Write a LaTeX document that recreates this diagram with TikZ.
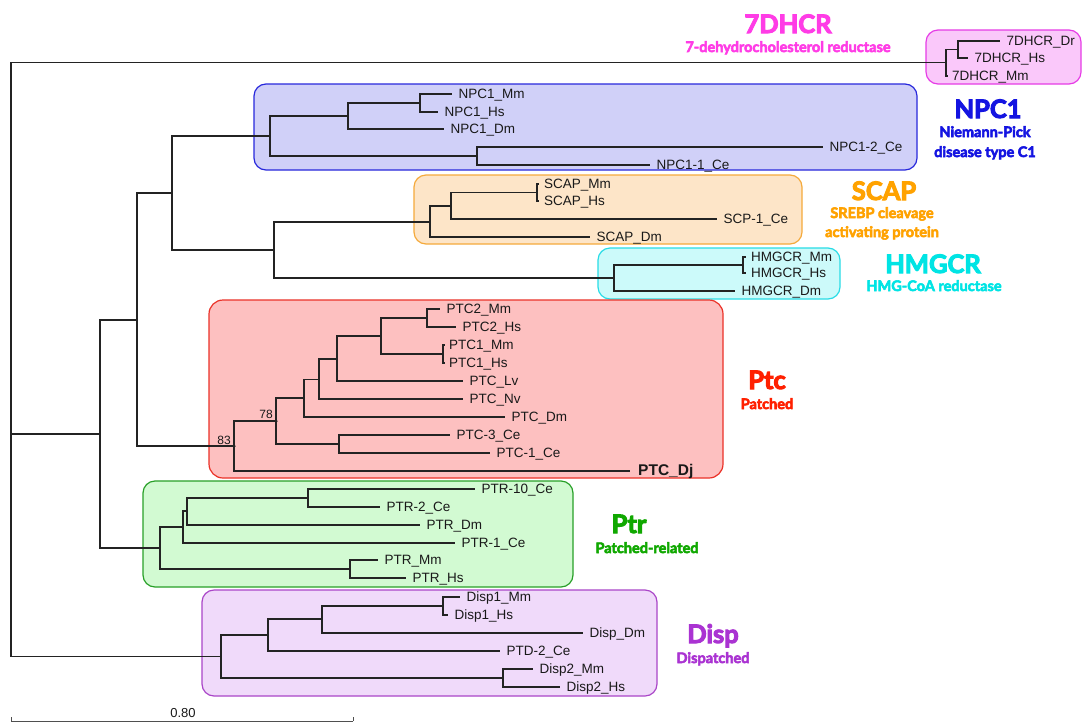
\documentclass[tikz,border=0pt]{standalone}
\usepackage{fontspec}
\setmainfont{Liberation Sans}
\newfontfamily\tfont{Lato}
\newcommand\heavytext[2][0.9]{\special{pdf:literal direct 2 Tr #1 w}#2\special{pdf:literal direct 0 Tr}}
\definecolor{lc}{RGB}{35,35,35}
\definecolor{tc}{RGB}{25,25,25}
\definecolor{cD}{RGB}{255,60,230}\definecolor{fD}{RGB}{250,200,250}\definecolor{bD}{RGB}{230,60,230}
\definecolor{cN}{RGB}{20,20,225}\definecolor{fN}{RGB}{208,208,248}\definecolor{bN}{RGB}{40,40,220}
\definecolor{cS}{RGB}{255,162,0}\definecolor{fS}{RGB}{253,229,200}\definecolor{bS}{RGB}{245,170,60}
\definecolor{cH}{RGB}{0,228,228}\definecolor{fH}{RGB}{204,250,250}\definecolor{bH}{RGB}{40,220,230}
\definecolor{cP}{RGB}{255,32,0}\definecolor{fP}{RGB}{253,192,192}\definecolor{bP}{RGB}{235,50,40}
\definecolor{cR}{RGB}{16,168,0}\definecolor{fR}{RGB}{210,250,210}\definecolor{bR}{RGB}{40,160,40}
\definecolor{cI}{RGB}{170,51,210}\definecolor{fI}{RGB}{240,218,250}\definecolor{bI}{RGB}{170,70,200}
\newcommand\ttltext[1]{\heavytext[1.0]{#1}}
\newcommand\subtext[1]{\heavytext[0.55]{#1}}
\begin{document}
\begin{tikzpicture}[x=1pt,y=-1pt,
  br/.style={draw=lc, line width=1.3pt},
  leaf/.style={anchor=west, inner xsep=6.5pt, inner ysep=0pt, text height=9.7pt, text depth=0pt, font=\fontsize{13.5}{14}\selectfont, text=tc},
  clade/.style={rounded corners=12pt, line width=1.2pt},
  ttl/.style={anchor=base, inner sep=0pt, font=\tfont\bfseries\fontsize{25.5}{27}\selectfont},
  sub/.style={anchor=base, inner sep=0pt, font=\tfont\bfseries\fontsize{14.5}{16}\selectfont},
  boot/.style={inner sep=0pt, font=\fontsize{12}{13}\selectfont, text=tc},
  dotn/.style={circle, fill=lc, inner sep=0pt, minimum size=3.5pt}]
\useasboundingbox[fill=white] (0,0) rectangle (1083,723);

% clade boxes
\draw[clade, draw=bD, fill=fD] (926,30) rectangle (1081,84);
\draw[clade, draw=bN, fill=fN] (254,84) rectangle (917,170);
\draw[clade, draw=bS, fill=fS] (414,175) rectangle (802,244);
\draw[clade, draw=bH, fill=fH] (598,248) rectangle (840,299);
\draw[clade, draw=bP, fill=fP, rounded corners=14pt] (209,300) rectangle (723,478);
\draw[clade, draw=bR, fill=fR] (143,481) rectangle (573,587);
\draw[clade, draw=bI, fill=fI] (202,590) rectangle (657,696);

% internal nodes
\coordinate (R) at (11,359);
\coordinate (D) at (946,62.5);
\coordinate (D2) at (958,49.5);
\coordinate (N0) at (100,434);
\coordinate (N1) at (137,320);
\coordinate (N2) at (172,193);
\coordinate (NPC0) at (270,136);
\coordinate (NPCa) at (348,116);
\coordinate (NPCc) at (420,103);
\coordinate (NPCb) at (477,156);
\coordinate (SH) at (274,250);
\coordinate (SC0) at (430,222);
\coordinate (SC1) at (451,206);
\coordinate (SC2) at (537,192.5);
\coordinate (HM0) at (614,278);
\coordinate (HM1) at (743,265);
\coordinate (PTC0) at (234,446);
\coordinate (P78) at (276,421);
\coordinate (P1) at (304,398);
\coordinate (P2) at (319,379.5);
\coordinate (P4) at (337,359);
\coordinate (P5) at (381,336);
\coordinate (P6) at (427,318);
\coordinate (P7) at (443,354);
\coordinate (P3) at (339,444);
\coordinate (PTR0) at (160,548);
\coordinate (T1) at (183,527);
\coordinate (T2) at (187,511);
\coordinate (T3) at (308,498);
\coordinate (T4) at (350,569);
\coordinate (DS0) at (221,656.5);
\coordinate (DS1) at (268,635);
\coordinate (DS2) at (322,619);
\coordinate (DS3) at (443,606);
\coordinate (DS4) at (503,678);

% leaves
\node[leaf] (dr) at (1000,41) {7DHCR\_Dr};
\node[leaf] (dhs) at (968,58) {7DHCR\_Hs};
\node[leaf, inner xsep=4pt] (dmm) at (948,76) {7DHCR\_Mm};
\node[leaf] (nmm) at (452,94) {NPC1\_Mm};
\node[leaf] (nhs) at (438,112) {NPC1\_Hs};
\node[leaf] (ndm) at (444,129) {NPC1\_Dm};
\node[leaf] (n2ce) at (823,147) {NPC1-2\_Ce};
\node[leaf] (n1ce) at (650,165) {NPC1-1\_Ce};
\node[leaf, inner xsep=5pt] (smm) at (539,184) {SCAP\_Mm};
\node[leaf, inner xsep=5pt] (shs) at (539,201) {SCAP\_Hs};
\node[leaf] (sce) at (717,219) {SCP-1\_Ce};
\node[leaf] (sdm) at (590,237) {SCAP\_Dm};
\node[leaf, inner xsep=5pt] (hmm) at (746,257) {HMGCR\_Mm};
\node[leaf, inner xsep=5pt] (hhs) at (746,273) {HMGCR\_Hs};
\node[leaf] (hdm) at (735,291) {HMGCR\_Dm};
\node[leaf] (p2mm) at (440,309) {PTC2\_Mm};
\node[leaf] (p2hs) at (456,327) {PTC2\_Hs};
\node[leaf, inner xsep=4pt] (p1mm) at (445,345) {PTC1\_Mm};
\node[leaf, inner xsep=4pt] (p1hs) at (445,363) {PTC1\_Hs};
\node[leaf] (plv) at (463,381) {PTC\_Lv};
\node[leaf] (pnv) at (463,399) {PTC\_Nv};
\node[leaf] (pdm) at (505,417) {PTC\_Dm};
\node[leaf] (p3ce) at (450,435) {PTC-3\_Ce};
\node[leaf] (p1ce) at (490,453) {PTC-1\_Ce};
\node[leaf, inner xsep=8pt, font=\bfseries\fontsize{15.5}{16}\selectfont] (pdj) at (630,471) {PTC\_Dj};
\node[leaf] (r10) at (475,489) {PTR-10\_Ce};
\node[leaf] (r2) at (380,507) {PTR-2\_Ce};
\node[leaf] (rdm) at (420,525) {PTR\_Dm};
\node[leaf] (r1) at (455,543) {PTR-1\_Ce};
\node[leaf] (rmm) at (378,560) {PTR\_Mm};
\node[leaf] (rhs) at (406,578) {PTR\_Hs};
\node[leaf] (d1mm) at (460,597) {Disp1\_Mm};
\node[leaf] (d1hs) at (448,615) {Disp1\_Hs};
\node[leaf] (ddm) at (583,633) {Disp\_Dm};
\node[leaf] (d2ce) at (500,651) {PTD-2\_Ce};
\node[leaf] (d2mm) at (533,669) {Disp2\_Mm};
\node[leaf] (d2hs) at (560,687) {Disp2\_Hs};

% branches
\draw[br] (R) |- (D); \draw[br] (R) |- (N0); \draw[br] (R) |- (DS0);
\draw[br] (D) |- (D2); \draw[br] (D) |- (dmm.west);
\draw[br] (D2) |- (dr.west); \draw[br] (D2) |- (dhs.west);
\draw[br] (N0) |- (N1); \draw[br] (N0) |- (PTR0);
\draw[br] (N1) |- (N2); \draw[br] (N1) |- (PTC0);
\draw[br] (N2) |- (NPC0); \draw[br] (N2) |- (SH);
\draw[br] (NPC0) |- (NPCa); \draw[br] (NPC0) |- (NPCb);
\draw[br] (NPCa) |- (NPCc); \draw[br] (NPCa) |- (ndm.west);
\draw[br] (NPCc) |- (nmm.west); \draw[br] (NPCc) |- (nhs.west);
\draw[br] (NPCb) |- (n2ce.west); \draw[br] (NPCb) |- (n1ce.west);
\draw[br] (SH) |- (SC0); \draw[br] (SH) |- (HM0);
\draw[br] (SC0) |- (SC1); \draw[br] (SC0) |- (sdm.west);
\draw[br] (SC1) |- (SC2); \draw[br] (SC1) |- (sce.west);
\draw[br] (SC2) |- (smm.west); \draw[br] (SC2) |- (shs.west);
\draw[br] (HM0) |- (HM1); \draw[br] (HM0) |- (hdm.west);
\draw[br] (HM1) |- (hmm.west); \draw[br] (HM1) |- (hhs.west);
\draw[br] (PTC0) |- (P78); \draw[br] (PTC0) |- (pdj.west);
\draw[br] (P78) |- (P1); \draw[br] (P78) |- (P3);
\draw[br] (P3) |- (p3ce.west); \draw[br] (P3) |- (p1ce.west);
\draw[br] (P1) |- (P2); \draw[br] (P1) |- (pdm.west);
\draw[br] (P2) |- (P4); \draw[br] (P2) |- (pnv.west);
\draw[br] (P4) |- (P5); \draw[br] (P4) |- (plv.west);
\draw[br] (P5) |- (P6); \draw[br] (P5) |- (P7);
\draw[br] (P6) |- (p2mm.west); \draw[br] (P6) |- (p2hs.west);
\draw[br] (P7) |- (p1mm.west); \draw[br] (P7) |- (p1hs.west);
\draw[br] (PTR0) |- (T1); \draw[br] (PTR0) |- (T4);
\draw[br] (T4) |- (rmm.west); \draw[br] (T4) |- (rhs.west);
\draw[br] (T1) |- (T2); \draw[br] (T1) |- (r1.west);
\draw[br] (T2) |- (T3); \draw[br] (T2) |- (rdm.west);
\draw[br] (T3) |- (r10.west); \draw[br] (T3) |- (r2.west);
\draw[br] (DS0) |- (DS1); \draw[br] (DS0) |- (DS4);
\draw[br] (DS4) |- (d2mm.west); \draw[br] (DS4) |- (d2hs.west);
\draw[br] (DS1) |- (DS2); \draw[br] (DS1) |- (d2ce.west);
\draw[br] (DS2) |- (DS3); \draw[br] (DS2) |- (ddm.west);
\draw[br] (DS3) |- (d1mm.west); \draw[br] (DS3) |- (d1hs.west);

% bootstrap values
\node[dotn] (dot83) at (PTC0) {};
\node[dotn] (dot78) at (P78) {};
\node[boot] (b83) at (224,440) {83};
\node[boot] (b78) at (266,414) {78};

% clade titles
\node[ttl, text=cD] (t7) at (788,33) {\ttltext{7DHCR}};
\node[sub, text=cD] (s7) at (788,52) {\subtext{7-dehydrocholesterol reductase}};
\node[ttl, text=cN] (tN) at (988,118) {\ttltext{NPC1}};
\node[sub, text=cN] (sN1) at (985,137) {\subtext{Niemann-Pick}};
\node[sub, text=cN] (sN2) at (985,157) {\subtext{disease type C1}};
\node[ttl, text=cS] (tS) at (884,200) {\ttltext{SCAP}};
\node[sub, text=cS] (sS1) at (882,218) {\subtext{SREBP cleavage}};
\node[sub, text=cS] (sS2) at (882,237) {\subtext{activating protein}};
\node[ttl, text=cH] (tH) at (933,273) {\ttltext{HMGCR}};
\node[sub, text=cH] (sH) at (934,291) {\subtext{HMG-CoA reductase}};
\node[ttl, text=cP] (tP) at (767,389) {\ttltext{Ptc}};
\node[sub, text=cP] (sP) at (767,409) {\subtext{Patched}};
\node[ttl, text=cR] (tR) at (629,533) {\ttltext{Ptr}};
\node[sub, text=cR] (sR) at (647,553) {\subtext{Patched-related}};
\node[ttl, text=cI] (tI) at (713,643) {\ttltext{Disp}};
\node[sub, text=cI] (sI) at (713,663) {\subtext{Dispatched}};

% scale bar
\coordinate (sb0) at (11,721);
\coordinate (sb1) at (353,721);
\draw[draw=lc!80, line width=1pt] (sb0) -- (sb1);
\draw[draw=lc!80, line width=1pt] (sb0) -- ++(0,-4);
\draw[draw=lc!80, line width=1pt] (sb1) -- ++(0,-4);
\node[boot, font=\fontsize{13}{14}\selectfont] (sbl) at (183,713) {0.80};
\end{tikzpicture}
\end{document}
